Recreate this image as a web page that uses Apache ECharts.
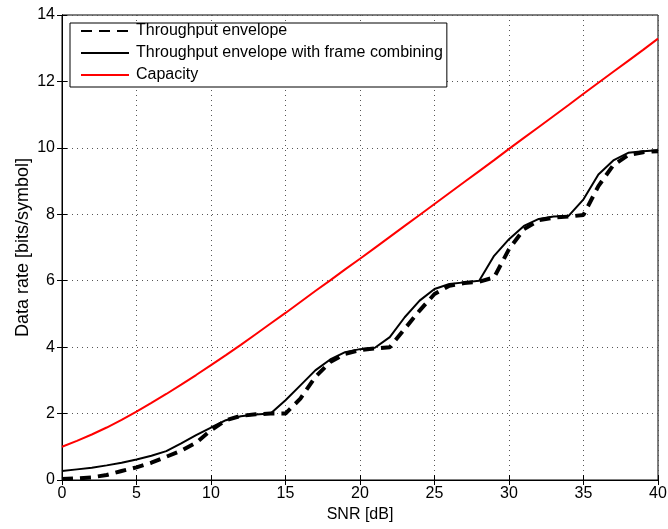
<!DOCTYPE html>
<html><head><meta charset="utf-8">
<script src="https://cdn.jsdelivr.net/npm/echarts@6/dist/echarts.min.js"></script>
<style>html,body{margin:0;padding:0;background:#fff}#c{width:668px;height:529px}</style>
</head><body><div id="c"></div>
<script>
var snr = [0,1,2,3,4,5,6,7,8,9,10,11,12,13,14,15,16,17,18,19,20,21,22,23,24,25,26,27,28,29,30,31,32,33,34,35,36,37,38,39,40];
var envelope = [0.03,0.05,0.08,0.15,0.27,0.38,0.52,0.70,0.88,1.12,1.50,1.80,1.93,1.98,2.00,2.00,2.45,3.10,3.55,3.80,3.91,3.96,4.00,4.55,5.10,5.60,5.85,5.93,5.97,6.10,6.95,7.55,7.82,7.90,7.93,7.98,8.85,9.48,9.78,9.87,9.90];
var combining = [0.27,0.32,0.37,0.44,0.52,0.62,0.73,0.87,1.10,1.35,1.58,1.80,1.92,1.97,2.00,2.40,2.85,3.30,3.63,3.85,3.94,3.98,4.30,4.90,5.40,5.75,5.90,5.95,6.00,6.75,7.25,7.65,7.86,7.93,7.95,8.45,9.20,9.62,9.85,9.90,9.93];
var capacity = [1.00,1.18,1.37,1.58,1.81,2.06,2.32,2.59,2.87,3.16,3.46,3.76,4.07,4.39,4.71,5.03,5.36,5.69,6.01,6.34,6.66,6.99,7.32,7.65,7.98,8.31,8.64,8.97,9.30,9.63,9.97,10.30,10.63,10.96,11.29,11.63,11.96,12.29,12.62,12.95,13.29];
var seriesNames = ['Throughput envelope','Throughput envelope with frame combining','Capacity'];
var xTicks = [0,5,10,15,20,25,30,35,40];
var yTicks = [0,2,4,6,8,10,12,14];

function pairs(v){ return snr.map(function(x,i){ return [x, v[i]]; }); }
var font = 'Liberation Sans, Arial, sans-serif';
var chart = echarts.init(document.getElementById('c'), null, {renderer:'canvas'});
var gridLine = {show:true, lineStyle:{color:'#555', type:[1,4], width:1}};
chart.setOption({
  animation:false,
  backgroundColor:'#fff',
  grid:{left:62, right:10, top:15, bottom:49, show:true, borderColor:'#000', borderWidth:1, backgroundColor:'transparent',
    containLabel:false, outerBoundsMode:'none'},
  legend:{
    left:70, top:23, orient:'vertical', itemWidth:48, itemHeight:16, itemGap:6,
    backgroundColor:'#fff', borderColor:'#000', borderWidth:1, padding:[0,4,4,10],
    itemStyle:{opacity:0},
    textStyle:{fontFamily:font, fontSize:16, lineHeight:16, color:'#000', padding:[0,0,0,2]},
    data:seriesNames.map(function(n){return {name:n};})
  },
  xAxis:[{
    type:'value', min:0, max:40, interval:5, position:'bottom',
    name:'SNR [dB]', nameLocation:'middle', nameGap:27,
    nameTextStyle:{fontFamily:font, fontSize:16, color:'#000'},
    axisLine:{lineStyle:{color:'#000', width:1}},
    axisTick:{inside:true, length:5, lineStyle:{color:'#000'}},
    axisLabel:{fontFamily:font, fontSize:16, color:'#000', margin:6,
      formatter:function(v){return xTicks.indexOf(v)>=0?String(v):'';}},
    splitLine:gridLine
  },{
    type:'value', min:0, max:40, interval:5, position:'top',
    axisLine:{lineStyle:{color:'#000'}}, axisTick:{inside:true, length:5, lineStyle:{color:'#000'}},
    axisLabel:{show:false}, splitLine:{show:false}
  }],
  yAxis:[{
    type:'value', min:0, max:14, interval:2, position:'left',
    name:'Data rate [bits/symbol]', nameLocation:'middle', nameGap:30, nameRotate:90, nameMoveOverlap:false,
    nameTextStyle:{fontFamily:font, fontSize:18, color:'#000'},
    axisLine:{show:true, lineStyle:{color:'#000', width:1}},
    axisTick:{show:true, inside:true, length:5, lineStyle:{color:'#000'}},
    axisLabel:{fontFamily:font, fontSize:16, color:'#000', margin:7,
      formatter:function(v){return yTicks.indexOf(v)>=0?String(v):'';}},
    splitLine:gridLine
  },{
    type:'value', min:0, max:14, interval:2, position:'right',
    axisLine:{show:true, lineStyle:{color:'#000'}}, axisTick:{show:true, inside:true, length:5, lineStyle:{color:'#000'}},
    axisLabel:{show:false}, splitLine:{show:false}
  }],
  series:[
    {name:seriesNames[0], type:'line', data:pairs(envelope), showSymbol:false, symbol:'none', z:3,
      lineStyle:{color:'#000', width:4, type:[11,7]}, itemStyle:{color:'#000'}},
    {name:seriesNames[1], type:'line', data:pairs(combining), showSymbol:false, symbol:'none', z:4,
      lineStyle:{color:'#000', width:2}, itemStyle:{color:'#000'}},
    {name:seriesNames[2], type:'line', data:pairs(capacity), showSymbol:false, symbol:'none', z:4,
      lineStyle:{color:'#ff0000', width:2}, itemStyle:{color:'#ff0000'}}
  ]
});
</script></body></html>
